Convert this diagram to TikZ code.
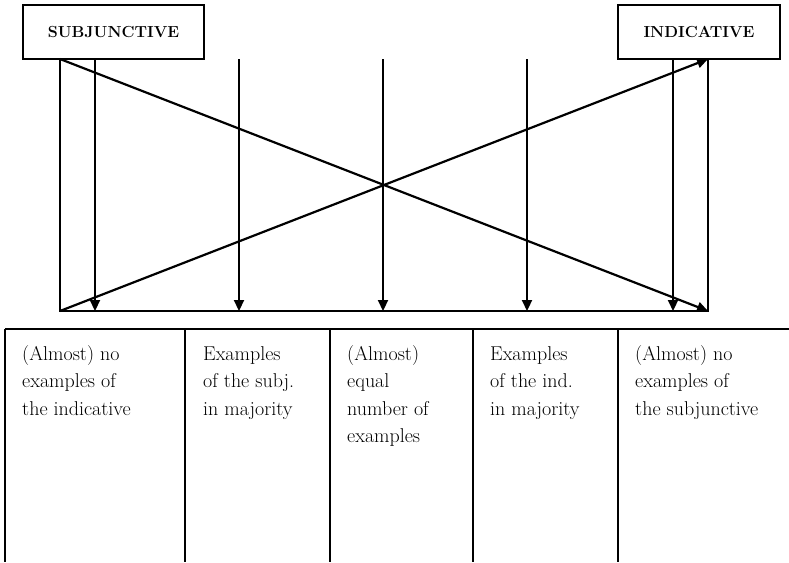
\documentclass[tikz,border=0pt]{standalone}
\usetikzlibrary{arrows.meta}
\begin{document}
\begin{tikzpicture}[x=1pt,y=-1pt,
  thinline/.style={line width=1.3pt},
  thickarrow/.style={line width=2.2pt,-{Triangle[length=11pt,width=10pt]}},
  moodbox/.style={draw,line width=1.3pt,inner sep=0pt,font=\fontsize{16}{19}\selectfont\bfseries},
  celltext/.style={anchor=north west,align=left,inner sep=0pt,font=\fontsize{20}{27.5}\selectfont}]
\useasboundingbox (0,0) rectangle (789,562);
% mood boxes
\node[moodbox,minimum width=181pt,minimum height=54pt] (subj) at (113.5,32) {SUBJUNCTIVE};
\node[moodbox,minimum width=162pt,minimum height=54pt] (ind) at (699,32) {INDICATIVE};
% frame corners
\coordinate (tl) at (60,59);
\coordinate (tr) at (708,59);
\coordinate (bl) at (60,311);
\coordinate (br) at (708,311);
\draw[thinline] (tl) -- (bl) -- (br) -- (tr);
% vertical arrows
\foreach \i/\x in {1/95,2/239,3/383,4/527,5/673}{
  \coordinate (a\i) at (\x,59);
  \coordinate (b\i) at (\x,311);
  \draw[thickarrow] (a\i) -- (b\i);
}
% diagonals
\draw[thickarrow] (tl) -- (br);
\draw[thickarrow] (bl) -- (tr);
% table
\coordinate (t0) at (5,329);
\coordinate (tend) at (789,329);
\draw[thinline] (t0) -- (tend);
\foreach \i/\x in {0/5,1/185,2/330,3/473,4/618}{
  \coordinate (c\i) at (\x,329);
  \coordinate (d\i) at (\x,562);
  \draw[thinline] (c\i) -- (d\i);
}
\node[celltext] (col1) at (22,345) {(Almost) no\\examples of\\the indicative};
\node[celltext] (col2) at (203,346) {Examples\\of the subj.\\in majority};
\node[celltext] (col3) at (347,345) {(Almost)\\equal\\number of\\examples};
\node[celltext] (col4) at (490,346) {Examples\\of the ind.\\in majority};
\node[celltext] (col5) at (635,345) {(Almost) no\\examples of\\the subjunctive};
\end{tikzpicture}
\end{document}
